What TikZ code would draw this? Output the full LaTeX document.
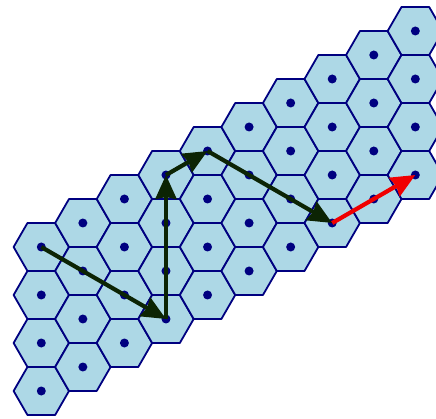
\documentclass[tikz,border=0pt]{standalone}
\usetikzlibrary{shapes.geometric,arrows.meta}
\definecolor{hexfill}{HTML}{ADD8E6}
\definecolor{hexline}{HTML}{000080}
\definecolor{arrdark}{RGB}{12,36,4}
\definecolor{arrred}{RGB}{240,0,0}
\tikzset{
  hexcell/.style={regular polygon, regular polygon sides=6, minimum size=55.4pt,
    inner sep=0pt, outer sep=0pt, draw=hexline, fill=hexfill, line width=1.8pt, line join=round},
  latdot/.style={circle, fill=hexline, minimum size=9pt, inner sep=0pt},
  vecarrow/.style={line width=4.2pt, -{Stealth[length=24pt,width=21pt,inset=2pt]}},
}
\begin{document}
\begin{tikzpicture}[x=1pt,y=1pt]
\useasboundingbox (0,0) rectangle (436,-419);
\clip (0,0) rectangle (436,-419);
\foreach \i in {1,...,10}{
  \foreach \j in {1,...,4}{
    \node[hexcell] (h-\i-\j) at ({41.3+(\i-1)*41.56},{-(247-(\i-1)*24+(\j-1)*48)}) {};
  }
}
\foreach \i in {1,...,10}{
  \foreach \j in {1,...,4}{
    \node[latdot] (d-\i-\j) at (h-\i-\j.center) {};
  }
}
\draw[vecarrow, draw=arrdark, fill=arrdark] (h-1-1.center) -- (h-4-4.center);
\draw[vecarrow, draw=arrdark, fill=arrdark] (h-4-4.center) -- (h-4-1.center);
\draw[vecarrow, draw=arrdark, fill=arrdark] (h-4-1.center) -- (h-5-1.center);
\draw[vecarrow, draw=arrdark, fill=arrdark] (h-5-1.center) -- (h-8-4.center);
\draw[vecarrow, draw=arrred, fill=arrred] (h-8-4.center) -- (h-10-4.center);
\end{tikzpicture}
\end{document}
